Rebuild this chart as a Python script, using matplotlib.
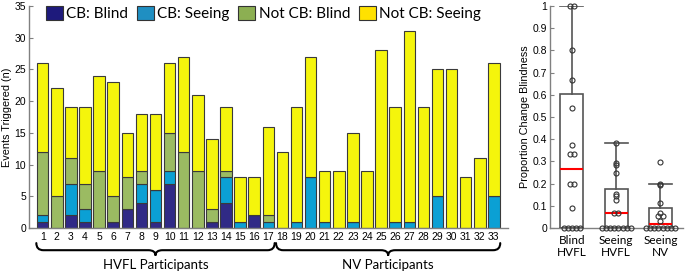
import numpy as np
import matplotlib
matplotlib.use("Agg")
import matplotlib.pyplot as plt
from matplotlib.path import Path
from matplotlib.patches import PathPatch, Patch
from matplotlib.transforms import blended_transform_factory

# ---------------- data ----------------
participants = list(range(1, 34))
cb_blind = [1, 0, 2, 1, 0, 1, 3, 4, 1, 7, 0, 0, 1, 4, 0, 2, 0,
            0, 0, 0, 0, 0, 0, 0, 0, 0, 0, 0, 0, 0, 0, 0, 0]
cb_seeing = [1, 0, 5, 2, 0, 0, 0, 3, 5, 2, 0, 0, 0, 4, 1, 0, 1,
             0, 1, 8, 1, 0, 1, 0, 0, 1, 1, 0, 5, 0, 0, 0, 5]
notcb_blind = [10, 5, 4, 4, 9, 4, 5, 2, 0, 6, 12, 9, 2, 1, 0, 0, 1,
               0, 0, 0, 0, 0, 0, 0, 0, 0, 0, 0, 0, 0, 0, 0, 0]
totals = [26, 22, 19, 19, 24, 23, 15, 18, 18, 26, 27, 21, 14, 19, 8, 8, 16,
          12, 19, 27, 9, 9, 15, 9, 28, 19, 31, 19, 25, 25, 8, 11, 26]
hvfl_ids = list(range(1, 18))
nv_ids = list(range(18, 34))
series_labels = ["CB: Blind", "CB: Seeing", "Not CB: Blind", "Not CB: Seeing"]
box_labels = ["Blind\nHVFL", "Seeing\nHVFL", "Seeing\nNV"]

cb_blind = np.array(cb_blind, float)
cb_seeing = np.array(cb_seeing, float)
notcb_blind = np.array(notcb_blind, float)
totals = np.array(totals, float)
notcb_seeing = totals - cb_blind - cb_seeing - notcb_blind

# proportions of change blindness derived from the counts
hv = np.array(hvfl_ids) - 1
nv = np.array(nv_ids) - 1
blind_den = cb_blind[hv] + notcb_blind[hv]
prop_blind_hvfl = (cb_blind[hv][blind_den > 0] / blind_den[blind_den > 0])
prop_seeing_hvfl = cb_seeing[hv] / (cb_seeing[hv] + notcb_seeing[hv])
prop_seeing_nv = cb_seeing[nv] / (cb_seeing[nv] + notcb_seeing[nv])
groups = [prop_blind_hvfl, prop_seeing_hvfl, prop_seeing_nv]

# ---------------- style ----------------
bar_colors = ["#302a86", "#0ba0d4", "#9bbb62", "#f5f50c"]
legend_colors = ["#1e1a7c", "#1f8fc2", "#8caf52", "#ffe100"]
spine_col = "#808080"
num_font = "Liberation Sans"
txt_font = "Lato"

fig = plt.figure(figsize=(6.85, 2.71), dpi=100)
ax = fig.add_axes([29/685, 43/271, 479/685, 222/271])
ax2 = fig.add_axes([550/685, 43/271, 133/685, 222/271])

x = np.array(participants)
bottom = np.zeros(len(x))
for vals, col in zip([cb_blind, cb_seeing, notcb_blind, notcb_seeing], bar_colors):
    ax.bar(x, vals, bottom=bottom, width=0.82, color=col,
           edgecolor="#3a3a3a", linewidth=0.8, zorder=2)
    bottom = bottom + vals

ax.set_xlim(0.03, 34)
ax.set_ylim(0, 35)
ax.set_yticks(np.arange(0, 36, 5))
ax.set_xticks(x)
ax.set_xticklabels([str(p) for p in participants], fontsize=7.5, family=num_font)
for lab in ax.get_yticklabels():
    lab.set_fontsize(7.5)
    lab.set_family(num_font)
ax.tick_params(axis="y", direction="in", length=3, width=0.8, color=spine_col, pad=2)
ax.tick_params(axis="x", length=0, pad=3)
for s in ["top", "right"]:
    ax.spines[s].set_visible(False)
for s in ["left", "bottom"]:
    ax.spines[s].set_color(spine_col)
    ax.spines[s].set_linewidth(1.0)
ax.set_ylabel("Events Triggered (n)", fontsize=7.8, family=num_font, labelpad=2)

handles = [Patch(facecolor=c, edgecolor="#333333", linewidth=0.8) for c in legend_colors]
leg = ax.legend(handles, series_labels, ncol=4, loc="center left",
                bbox_to_anchor=(0.035, 0.965), frameon=False, borderpad=0,
                borderaxespad=0, handlelength=1.1, handleheight=1.0,
                handletextpad=0.25, columnspacing=0.55,
                prop={"family": txt_font, "size": 11})


def brace(axis, x0, x1, y_end, y_line, y_tip, r):
    xm = (x0 + x1) / 2.0
    verts = [(x0, y_end), (x0, y_line), (x0 + r, y_line),
             (xm - r, y_line),
             (xm, y_line), (xm, y_tip),
             (xm, y_line), (xm + r, y_line),
             (x1 - r, y_line),
             (x1, y_line), (x1, y_end)]
    codes = [Path.MOVETO, Path.CURVE3, Path.CURVE3, Path.LINETO,
             Path.CURVE3, Path.CURVE3, Path.CURVE3, Path.CURVE3,
             Path.LINETO, Path.CURVE3, Path.CURVE3]
    tr = blended_transform_factory(axis.transData, axis.transAxes)
    axis.add_patch(PathPatch(Path(verts, codes), fill=False, lw=1.5,
                             edgecolor="black", transform=tr, clip_on=False,
                             capstyle="round"))
    return xm, tr


for ids, name in [(hvfl_ids, "HVFL Participants"), (nv_ids, "NV Participants")]:
    xm, tr = brace(ax, ids[0] - 0.45, ids[-1] + 0.45, -0.068, -0.100, -0.124, 0.5)
    ax.text(xm, -0.165, name, transform=tr, ha="center", va="center",
            fontsize=9.5, family=txt_font)

# ---------------- box plot ----------------
positions = [1, 2, 3]
stats = []
for g in groups:
    q1, med, q3 = np.percentile(g, [25, 50, 75], method="hazen")
    iqr = q3 - q1
    hi = g[g <= q3 + 1.5 * iqr].max()
    lo = g[g >= q1 - 1.5 * iqr].min()
    stats.append(dict(med=med, q1=q1, q3=q3, whislo=lo, whishi=hi, fliers=[]))

bw = 0.52
ax2.bxp(stats, positions=positions, widths=bw, capwidths=bw, showfliers=False,
        patch_artist=True,
        boxprops=dict(facecolor="white", edgecolor="#555555", linewidth=1.2),
        medianprops=dict(color="red", linewidth=1.5),
        whiskerprops=dict(color="#555555", linewidth=1.2),
        capprops=dict(color="#555555", linewidth=1.2), zorder=2)

# swarm-like horizontal spread of identical values
d = 0.095
for pos, g in zip(positions, groups):
    vals = np.round(g, 4)
    xs = np.zeros(len(vals))
    for v in np.unique(vals):
        idx = np.where(vals == v)[0]
        n = len(idx)
        xs[idx] = (np.arange(n) - (n - 1) / 2.0) * d
    ax2.plot(pos + xs, g, linestyle="none", marker="o", ms=3.6, mfc="none",
             mec="#333333", mew=0.8, zorder=3, clip_on=False)

ax2.set_xlim(0.503, 3.51)
ax2.set_ylim(0, 1)
ax2.set_yticks(np.round(np.arange(0, 1.01, 0.1), 1))
ax2.set_yticklabels(["0"] + [f"{v:.1f}" for v in np.arange(0.1, 0.95, 0.1)] + ["1"],
                    fontsize=7.5, family=num_font)
ax2.set_xticks(positions)
ax2.set_xticklabels(box_labels, fontsize=8.5, family=txt_font, linespacing=1.15)
ax2.tick_params(axis="y", direction="in", length=3, width=0.8, color=spine_col, pad=2)
ax2.tick_params(axis="x", length=0, pad=5)
for s in ["top", "right"]:
    ax2.spines[s].set_visible(False)
for s in ["left", "bottom"]:
    ax2.spines[s].set_color(spine_col)
    ax2.spines[s].set_linewidth(1.0)
ax2.set_ylabel("Proportion Change Blindness", fontsize=7.8, family=num_font, labelpad=2)

fig.savefig("out.png", dpi=100)
